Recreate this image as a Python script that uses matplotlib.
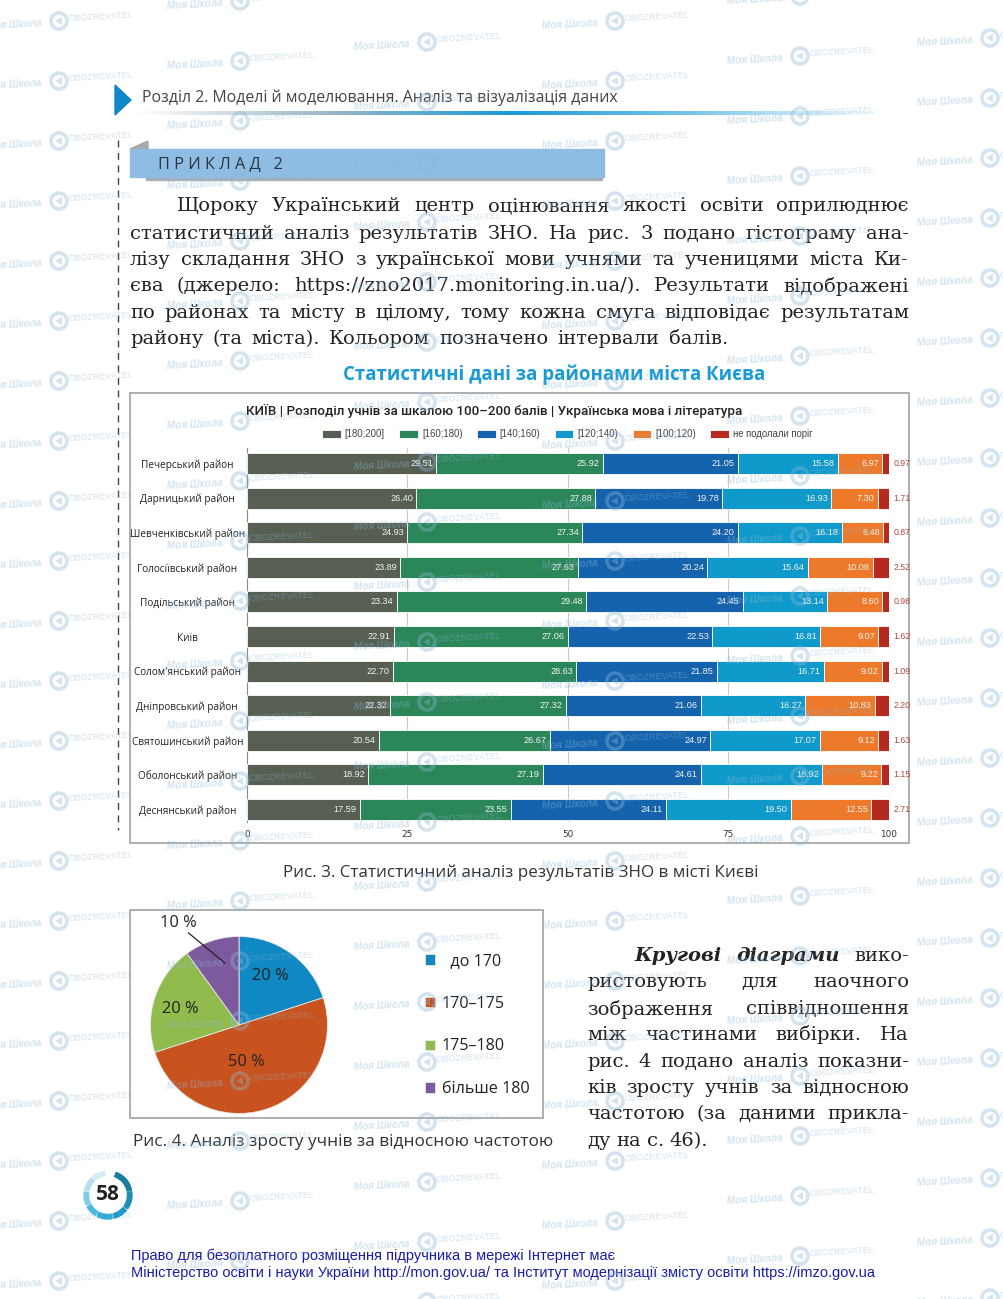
import numpy as np
import matplotlib
matplotlib.use("Agg")
import matplotlib.pyplot as plt
from matplotlib.patches import Polygon, Rectangle, Wedge, Circle
from matplotlib.colors import LinearSegmentedColormap

W, H = 1004, 1299

districts = ["Печерський район", "Дарницький район", "Шевченківський район", "Голосіївський район",
             "Подільський район", "Київ", "Солом'янський район", "Дніпровський район",
             "Святошинський район", "Оболонський район", "Деснянський район"]
s180_200 = [29.51, 26.40, 24.93, 23.89, 23.34, 22.91, 22.70, 22.32, 20.54, 18.92, 17.59]
s160_180 = [25.92, 27.88, 27.34, 27.63, 29.48, 27.06, 28.63, 27.32, 26.67, 27.19, 23.55]
s140_160 = [21.05, 19.78, 24.20, 20.24, 24.45, 22.53, 21.85, 21.06, 24.97, 24.61, 24.11]
s120_140 = [15.58, 16.93, 16.18, 15.64, 13.14, 16.81, 16.71, 16.27, 17.07, 18.92, 19.50]
s100_120 = [6.97, 7.30, 6.48, 10.08, 8.60, 9.07, 9.02, 10.83, 9.12, 9.22, 12.55]
s_fail = [0.97, 1.71, 0.87, 2.52, 0.98, 1.62, 1.09, 2.20, 1.63, 1.15, 2.71]
series_names = ["[180;200]", "[160;180)", "[140;160)", "[120;140)", "[100;120)", "не подолали поріг"]
x_ticks = [0, 25, 50, 75, 100]

pie_names = ["  до 170", "170–175", "175–180", "більше 180"]
pie_values = [20, 50, 20, 10]

chart_title = "КИЇВ | Розподіл учнів за шкалою 100–200 балів | Українська мова і література"

bar_colors = ["#565f52", "#2b8659", "#1563ad", "#0f9acb", "#ec7a2a", "#b52a1f"]
pie_colors = ["#0f88c4", "#c9531f", "#8fbc4d", "#7d5a9e"]
SANS = ["Open Sans", "DejaVu Sans"]
SERIF = "DejaVu Serif"

fig = plt.figure(figsize=(W / 100, H / 100), dpi=100, facecolor="white")
renderer = fig.canvas.get_renderer()


def px_axes(x0, y0, x1, y1, **kw):
    return fig.add_axes([x0 / W, 1 - y1 / H, (x1 - x0) / W, (y1 - y0) / H], **kw)


page = px_axes(0, 0, W, H)
page.set_xlim(0, W)
page.set_ylim(H, 0)
page.axis("off")


def fit(text, x0, x1, y, **kw):
    t = page.text(x0, y, text, va="center", ha="left", fontsize=10, **kw)
    w = t.get_window_extent(renderer).width
    t.set_fontsize(10 * (x1 - x0) / w)
    return t


def justify(words, x0, x1, y, size=14.0, styles=None, last=False):
    styles = styles or [{}] * len(words)
    items = [page.text(0, y, w, family=SERIF, fontsize=size, color="#222222", va="center_baseline", ha="left", **st)
             for w, st in zip(words, styles)]
    widths = [t.get_window_extent(renderer).width for t in items]
    space = size * 100 / 72 * 0.3
    if last:
        gap = space
    else:
        gap = (x1 - x0 - sum(widths)) / (len(words) - 1)
        if gap < space:
            k = (x1 - x0 - space * (len(words) - 1)) / sum(widths)
            for t in items:
                t.set_fontsize(size * k)
            widths = [w * k for w in widths]
            gap = space
    x = x0
    for t, w in zip(items, widths):
        t.set_x(x)
        x += w + gap


# header
page.add_patch(Polygon([(115, 85), (131, 100), (115, 115)], color="#0e86c9"))
fit("Розділ 2. Моделі й моделювання. Аналіз та візуалізація даних", 142, 617, 98, family=SANS, color="#444444")
cmap = LinearSegmentedColormap.from_list("hdr", ["#ffffff", "#9fb8c6", "#1a9ad6", "#7cc6ea", "#ffffff"])
page.imshow(np.linspace(0, 1, 400)[None, :], cmap=cmap, extent=(135, 885, 115, 111), aspect="auto", zorder=1)
page.set_xlim(0, W)
page.set_ylim(H, 0)
page.plot([118, 118], [140, 830], color="#444444", lw=1.0, ls=(0, (5, 4)))

# example banner
page.add_patch(Polygon([(130, 149), (148, 141), (148, 149)], color="#a8a8a8"))
page.add_patch(Rectangle((146, 177), 456, 3, color="#a4afb8"))
page.add_patch(Rectangle((130, 149), 474, 28, color="#8fbce3"))
fit("П Р И К Л А Д   2", 158, 282, 164, family=SANS, color="#2a3540")

body = [
    (177, 909, 204, "Щороку Український центр оцінювання якості освіти оприлюднює"),
    (130, 909, 232, "статистичний аналіз результатів ЗНО. На рис. 3 подано гістограму ана-"),
    (130, 909, 258, "лізу складання ЗНО з української мови учнями та ученицями міста Ки-"),
    (130, 909, 284, "єва (джерело: https://zno2017.monitoring.in.ua/). Результати відображені"),
    (130, 909, 311, "по районах та місту в цілому, тому кожна смуга відповідає результатам"),
    (130, 728, 337, "району (та міста). Кольором позначено інтервали балів."),
]
for x0, x1, y, s in body:
    justify(s.split(), x0, x1, y)

fit("Статистичні дані за районами міста Києва", 343, 765, 375, family=SANS, weight="bold", color="#1a9ad6")

# bar chart frame
page.add_patch(Rectangle((130, 393), 779.5, 450, fill=False, ec="#9a9a9a", lw=1.1))
fit(chart_title, 246, 743, 411, family=["Roboto", "DejaVu Sans"], weight="medium", color="#222222")

# bar chart
ax = px_axes(247, 448, 888.7, 822)
ax.patch.set_alpha(0)
all_series = [s180_200, s160_180, s140_160, s120_140, s100_120, s_fail]
ypos = np.arange(len(districts))
left = np.zeros(len(districts))
containers = []
for i, (vals, col, name) in enumerate(zip(all_series, bar_colors, series_names)):
    vals = np.array(vals)
    c = ax.barh(ypos, vals, left=left, height=0.61, color=col, edgecolor="white", linewidth=0.6, label=name, zorder=3)
    containers.append(c)
    for y, v, l in zip(ypos, vals, left):
        if i < 5:
            ax.text(l + v - 0.5, y, f"{v:.2f}", ha="right", va="center", color="#f2f2f2", fontsize=6.6,
                    family="Liberation Sans", zorder=4)
        else:
            ax.text(100.7, y, f"{v:.2f}", ha="left", va="center", color="#b5473c", fontsize=6.3,
                    family="Liberation Sans", zorder=4, clip_on=False)
    left = left + vals
ax.set_xlim(0, 100)
ax.set_ylim(10.36, -0.448)
ax.set_xticks(x_ticks)
ax.set_xticklabels([str(v) for v in x_ticks])
ax.set_yticks(ypos)
ax.set_yticklabels(districts, family=SANS, fontsize=7.2, color="#222222", ha="center")
ax.tick_params(axis="y", length=0, pad=43)
ax.tick_params(axis="x", length=0, pad=6, labelsize=6.4, labelcolor="#333333")
ax.grid(axis="x", color="#c9c9c9", lw=0.8, zorder=0)
ax.set_axisbelow(True)
for k, sp in ax.spines.items():
    sp.set_visible(k == "left")
ax.spines["left"].set_color("#8a8a8a")
leg = ax.legend(handles=containers, loc="center left", bbox_to_anchor=(322 / W, 1 - 434 / H),
                bbox_transform=fig.transFigure, ncol=6, frameon=False, handlelength=1.95,
                handleheight=0.9, handletextpad=0.42, columnspacing=1.5, borderpad=0, borderaxespad=0,
                labelcolor="#444444", prop={"family": "Liberation Sans", "size": 6.9})

fit("Рис. 3. Статистичний аналіз результатів ЗНО в місті Києві", 283, 757, 873, family=SANS, color="#333333")

# pie frame
page.add_patch(Rectangle((130, 910), 413, 208, fill=False, ec="#9a9a9a", lw=1.1))

R = 88.5
cx, cy = 239, 1025
pax = px_axes(cx - R, cy - R, cx + R, cy + R)
wedges, _ = pax.pie(pie_values, colors=pie_colors, startangle=90, counterclock=False, radius=1,
                    wedgeprops=dict(edgecolor="#e8e8e8", linewidth=0.6))
pax.set_xlim(-1, 1)
pax.set_ylim(-1, 1)
pie_label_offsets = [(0.35, 0.55), (0.08, -0.42), (-0.66, 0.18), (-0.68, 1.15)]
for v, (dx, dy) in zip(pie_values, pie_label_offsets):
    pax.text(dx, dy, f"{v} %", ha="center", va="center", fontsize=11.8, family=SANS, color="#222222", clip_on=False)
pax.plot([-0.57, -0.16], [1.04, 0.70], color="#222222", lw=0.9, clip_on=False, zorder=5)
pax.legend(wedges, pie_names, loc="upper left", bbox_to_anchor=(425 / W, 1 - 953 / H),
           bbox_transform=fig.transFigure, frameon=False, handlelength=0.62, handleheight=0.62,
           handletextpad=0.42, labelspacing=1.66, borderpad=0, borderaxespad=0, labelcolor="#222222",
           prop={"family": SANS, "size": 11.6})

fit("Рис. 4. Аналіз зросту учнів за відносною частотою", 133, 553, 1142, family=SANS, color="#333333")

bi = dict(style="italic", weight="bold")
justify(["Кругові", "діаграми", "вико-"], 634, 909, 954, styles=[bi, bi, {}])
right_col = [
    (980, "ристовують для наочного"),
    (1007, "зображення співвідношення"),
    (1033, "між частинами вибірки. На"),
    (1060, "рис. 4 подано аналіз показни-"),
    (1086, "ків зросту учнів за відносною"),
    (1112, "частотою (за даними прикла-"),
]
for y, s in right_col:
    justify(s.split(), 587, 909, y)
justify("ду на с. 46).".split(), 587, 719, 1139, last=True)

# page number ring
ring = [(12, 70, "#1a7f9f"), (-35, 8, "#1c8fb5"), (-75, -40, "#1799c8"), (-117, -80, "#2baad8"),
        (-150, -122, "#4cb8e0"), (-187, -155, "#7fcdea"), (-225, -192, "#b5e0f2"), (-262, -230, "#d5edf7")]
pnum = px_axes(80, 1167, 136, 1223)
pnum.set_xlim(-28, 28)
pnum.set_ylim(-28, 28)
pnum.axis("off")
for a0, a1, col in ring:
    pnum.add_patch(Wedge((0, 0), 24, a0, a1, width=4.5, color=col))
pnum.text(0, 0, "58", ha="center", va="center", fontsize=15, weight="bold", family=SANS, color="#222222")

# footer
fit("Право для безоплатного розміщення підручника в мережі Інтернет має", 131, 616, 1256,
    family="Liberation Sans", color="#1c1ca8")
fit("Міністерство освіти і науки України http://mon.gov.ua/ та Інститут модернізації змісту освіти https://imzo.gov.ua",
    131, 872, 1273, family="Liberation Sans", color="#1c1ca8")

# watermark
wm = px_axes(0, 0, W, H, zorder=20)
wm.patch.set_alpha(0)
wm.set_xlim(0, W)
wm.set_ylim(H, 0)
wm.axis("off")
WC = "#8cb8d6"
A = 0.38
columns = [(14, 25), (195, 5), (382, 46), (570, 25), (755, 0), (945, 42)]
for mx, y0 in columns:
    for y in range(y0, H + 40, 60):
        wm.text(mx, y, "Моя Школа", ha="center", va="center", rotation=3, color=WC, alpha=A,
                fontsize=7.2, weight="bold", style="italic", family="Liberation Sans", clip_on=True)
        wm.add_patch(Circle((mx + 45, y - 4), 8, fc="none", ec=WC, lw=2.6, alpha=A))
        wm.add_patch(Polygon([(mx + 41, y - 4), (mx + 48, y - 8), (mx + 48, y)], fc=WC, ec="none", alpha=A))
        wm.text(mx + 87, y - 8, "OBOZREVATEL", ha="center", va="center", rotation=3, color=WC, alpha=A,
                fontsize=6.5, family="Liberation Sans", clip_on=True)

fig.savefig("out.png", dpi=100)
